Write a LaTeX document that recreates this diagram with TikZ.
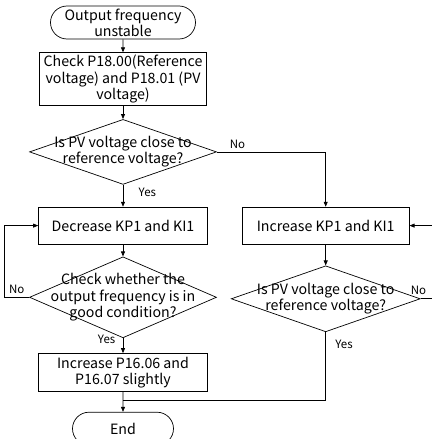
\documentclass[tikz,border=0pt]{standalone}
\usepackage{fontspec}
\setmainfont{Noto Sans CJK SC}
\usetikzlibrary{shapes.geometric, shapes.misc, arrows.meta, positioning, calc}
\newcommand{\flowfont}{\fontsize{14.2}{16.3}\selectfont}
\newcommand{\tagfont}{\fontsize{11.5}{13}\selectfont}

\begin{document}
\begin{tikzpicture}[
    x=1pt, y=-1pt,
    term/.style={rounded rectangle, draw, minimum height=33pt, align=center, font=\flowfont, inner sep=0pt},
    proc/.style={rectangle, draw, minimum width=169pt, minimum height=37pt, align=center, font=\flowfont, inner sep=1pt},
    ask/.style={diamond, draw, minimum width=187pt, inner sep=0pt},
    asktext/.style={align=center, font=\flowfont},
    arr/.style={-{Triangle[length=5pt, width=4pt]}, line width=0.7pt},
    lbl/.style={font=\tagfont},
    every path/.style={line width=0.7pt}
]
\useasboundingbox (0,0) rectangle (431,439);

\node[term, minimum width=145pt] (start) at (123,22.5) {Output frequency\\unstable};
\node[proc, minimum width=167pt, minimum height=53pt, below=13pt of start] (chk) {Check P18.00(Reference\\voltage) and P18.01 (PV\\voltage)};
\node[ask, minimum height=65pt, below=13pt of chk,
      label={[asktext]center:{Is PV voltage close to\\reference voltage?}}] (ask1) {};
\node[proc, below=22pt of ask1] (dec) {Decrease KP1 and KI1};
\node[proc, minimum width=167pt, right=34pt of dec] (inc) {Increase KP1 and KI1};
\node[ask, minimum height=81pt, below=12pt of dec,
      label={[asktext]center:{Check whether the\\output frequency is in\\good condition?}}] (ask2) {};
\node[ask, minimum width=189pt, minimum height=66pt, below=21pt of inc,
      label={[asktext]center:{Is PV voltage close to\\reference voltage?}}] (ask3) {};
\node[proc, minimum height=38pt, below=15pt of ask2] (up16) {Increase P16.06 and\\P16.07 slightly};
\node[term, minimum width=101pt, below=20pt of up16] (end) {End};
\coordinate (join) at ($(up16.south)+(0,8)$);

\draw[arr] (start) -- (chk);
\draw[arr] (chk) -- (ask1);
\draw[arr] (ask1) -- node[lbl, right=12pt, pos=0.35] {Yes} (dec);
\draw[arr] (ask1.east) -- node[lbl, above, pos=0.19] {No} (ask1.east -| inc) -- (inc);
\draw[arr] (inc) -- (ask3);
\draw[arr] (dec) -- (ask2);
\draw[arr] (ask2.west) -- node[lbl, above] {No} ++(-25,0) |- (dec.west);
\draw[arr] (ask2) -- node[lbl, left=4pt, pos=0.1] {Yes} (up16);
\draw[arr] (ask3.east) -- node[lbl, above, pos=0, xshift=-2pt] {No} ++(14,0) |- (inc.east);
\draw (ask3.south) -- node[lbl, right=6pt, pos=0.18] {Yes} (ask3.south |- join) -- (join);
\draw[arr] (up16) -- (end);
\end{tikzpicture}
\end{document}
